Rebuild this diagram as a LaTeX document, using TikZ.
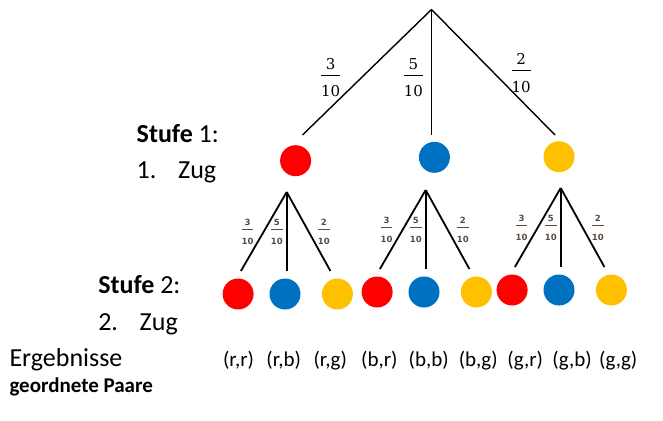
\documentclass[tikz,border=0pt]{standalone}
\usepackage{amsmath}
\usepackage{fontspec}
\setmainfont{Carlito}
\newfontfamily\bruchfont{DejaVu Sans}
\newfontfamily\zahlfont{DejaVu Serif}
\usepackage{xcolor}
\usepackage{tikz}
\usetikzlibrary{positioning}

\definecolor{kugelrot}{HTML}{FF0000}
\definecolor{kugelblau}{HTML}{0070C0}
\definecolor{kugelgelb}{HTML}{FFC000}
\definecolor{bruchgrau}{HTML}{5A4B3C}

\newcommand{\grossbruch}[2]{$\genfrac{}{}{0.9pt}{0}{\mbox{\zahlfont #1}}{\rule{0pt}{18.3pt}\mbox{\zahlfont #2}}$}
\newcommand{\kleinbruch}[2]{$\dfrac{\mbox{\bruchfont\bfseries #1}}{\rule{0pt}{14.3pt}\mbox{\bruchfont\bfseries #2}}$}

\tikzset{
    kugel/.style={circle, inner sep=0pt, minimum size=31pt},
    ast/.style={line width=1.4pt},
    zweig/.style={line width=1.8pt},
    stufe/.style={anchor=base west, inner sep=0pt, font=\fontsize{26}{30}\selectfont},
    gbruch/.style={anchor=base, inner sep=0pt, font=\fontsize{15}{18}\selectfont},
    kbruch/.style={anchor=base, inner sep=0pt, text=bruchgrau, font=\fontsize{8.5}{10}\selectfont},
    paar/.style={anchor=base, inner sep=0pt, font=\fontsize{21}{25}\selectfont}
}

\begin{document}
\begin{tikzpicture}[x=1pt, y=-1pt]
    \useasboundingbox (0,0) rectangle (663,420);

    % Stufe 1
    \coordinate (w) at (431.5,9.5);
    \node [kugel, fill=kugelrot] (r) at (295.6,160.7) {};
    \node [kugel, fill=kugelblau] (b) at (434.4,157.3) {};
    \node [kugel, fill=kugelgelb] (g) at (559,156.7) {};
    \coordinate (r-ende) at (302.5,135);
    \coordinate (b-ende) at (431.5,135);
    \coordinate (g-ende) at (555,135);
    \draw [ast] (w) -- (r-ende);
    \draw [ast] (w) -- (b-ende);
    \draw [ast] (w) -- (g-ende);
    \node [gbruch] (p-r) at (330.7,78.75) {\grossbruch{3}{10}};
    \node [gbruch] (p-b) at (413.4,78.75) {\grossbruch{5}{10}};
    \node [gbruch] (p-g) at (521.2,74.45) {\grossbruch{2}{10}};

    % Stufe 2
    \foreach \k/\sx/\sy in {r/286.7/192, b/425.7/190, g/560.7/188} {
        \coordinate (\k-w) at (\sx,\sy);
        \node [kugel, fill=kugelrot] (\k r) at (\sx-48.6,\sy+102) {};
        \node [kugel, fill=kugelblau] (\k b) at (\sx-1.7,\sy+102) {};
        \node [kugel, fill=kugelgelb] (\k g) at (\sx+50.7,\sy+102) {};
        \coordinate (\k r-ende) at (\sx-45.8,\sy+79);
        \coordinate (\k b-ende) at (\sx,\sy+79);
        \coordinate (\k g-ende) at (\sx+43.7,\sy+79);
        \draw [zweig] (\k-w) -- (\k r-ende);
        \draw [zweig] (\k-w) -- (\k b-ende);
        \draw [zweig] (\k-w) -- (\k g-ende);
        \node [kbruch] (\k p-r) at (\sx-39.2,\sy+39.2) {\kleinbruch{3}{10}};
        \node [kbruch] (\k p-b) at (\sx-9.8,\sy+39.2) {\kleinbruch{5}{10}};
        \node [kbruch] (\k p-g) at (\sx+37.1,\sy+39.2) {\kleinbruch{2}{10}};
    }

    % Beschriftung links
    \node [stufe] (stufe1) at (136.5,142.7) {\textbf{Stufe} 1:};
    \node [stufe] (zug1) at (136.5,178.3) {1.\hspace*{21.7pt}Zug};
    \node [stufe] (stufe2) at (98.1,293.3) {\textbf{Stufe} 2:};
    \node [stufe] (zug2) at (98.1,330.7) {2.\hspace*{21.7pt}Zug};
    \node [stufe] (ergebnisse) at (9.3,366) {Ergebnisse};
    \node [stufe, font=\fontsize{21}{25}\selectfont\bfseries] (paare) at (9.3,392.7) {geordnete Paare};

    % Ergebnisse
    \foreach \p/\x [count=\i] in {{(r,r)}/238.5, {(r,b)}/283.7, {(r,g)}/330.2,
        {(b,r)}/379.3, {(b,b)}/428.7, {(b,g)}/478.2,
        {(g,r)}/525.2, {(g,b)}/572.1, {(g,g)}/618.2}
        \node [paar] (paar\i) at (\x,366) {\p};
\end{tikzpicture}
\end{document}
